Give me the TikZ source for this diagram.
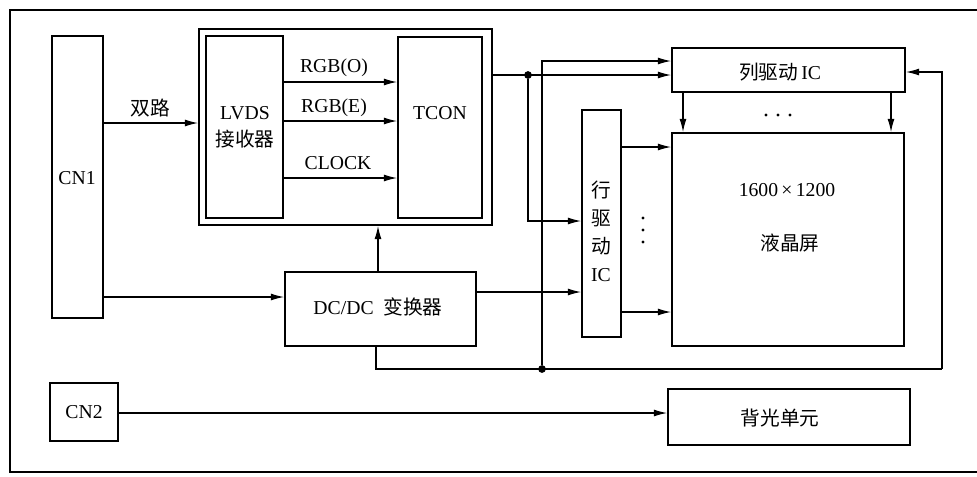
\documentclass[tikz,border=0pt]{standalone}
\usepackage{fontspec}
\setmainfont{Liberation Serif}
\newfontfamily\cjk{Noto Sans CJK SC}
\usetikzlibrary{fit,arrows.meta}
\begin{document}
\begin{tikzpicture}[x=0.025cm,y=-0.025cm,
  box/.style={draw,line width=1.2pt,inner sep=0pt},
  ln/.style={line width=0.9pt},
  arr/.style={ln,-{Latex[length=9.5pt,width=5pt]}},
  lbl/.style={font=\fontsize{14}{19}\selectfont,inner sep=0pt},
  jdot/.style={circle,fill,inner sep=0pt,minimum size=5.5pt},
  sdot/.style={circle,fill,inner sep=0pt,minimum size=2.2pt}]
\useasboundingbox (0,0) rectangle (977,476);
% outer frame
\draw[line width=1.2pt] (980,10) -- (10,10) -- (10,472) -- (980,472);
% blocks
\node[box,fit={(52,36)(103,318)}] (cn1) {};
\node[lbl] (cn1t) at (77,178) {CN1};
\node[box,fit={(199,29)(492,225)}] (outer) {};
\node[box,fit={(206,36)(283,218)}] (lvds) {};
\node[lbl,align=center] (lvdst) at (245,127) {LVDS\\{\cjk 接收器}};
\node[box,fit={(398,37)(482,218)}] (tcon) {};
\node[lbl] (tcont) at (440,113) {TCON};
\node[box,fit={(285,272)(476,346)}] (dcdc) {};
\node[lbl] (dcdct) at (378,307) {DC/DC\ \ {\cjk 变换器}};
\node[box,fit={(582,110)(621,337)}] (rowic) {};
\node[lbl,align=center,font=\fontsize{14}{20}\selectfont] (rowict) at (601,231) {{\cjk 行}\\{\cjk 驱}\\{\cjk 动}\\IC};
\node[box,fit={(672,48)(905,92)}] (colic) {};
\node[lbl] (colict) at (780,72) {{\cjk 列驱动}\,IC};
\node[box,fit={(672,133)(904,346)}] (lcd) {};
\node[lbl] (lcdt1) at (787,190) {1600\,×\,1200};
\node[lbl] (lcdt2) at (790,243) {\cjk 液晶屏};
\node[box,fit={(50,383)(118,441)}] (cn2) {};
\node[lbl] (cn2t) at (84,412) {CN2};
\node[box,fit={(668,389)(910,445)}] (bl) {};
\node[lbl] (blt) at (780,418) {\cjk 背光单元};
% labels
\node[lbl] (lsl) at (150,108) {\cjk 双路};
\node[lbl] (lrgbo) at (334,68) {RGB(O)};
\node[lbl] (lrgbe) at (334,108) {RGB(E)};
\node[lbl] (lclk) at (338,163) {CLOCK};
% connectors
\draw[arr] (cn1.east |- 0,123) -- (outer.west |- 0,123);
\draw[arr] (lvds.east |- 0,82) -- (tcon.west |- 0,82);
\draw[arr] (lvds.east |- 0,121) -- (tcon.west |- 0,121);
\draw[arr] (lvds.east |- 0,178) -- (tcon.west |- 0,178);
\draw[arr] (cn1.east |- 0,297) -- (dcdc.west |- 0,297);
\draw[arr] (dcdc.north -| 378,0) -- (outer.south -| 378,0);
\draw[arr] (dcdc.east |- 0,292) -- (rowic.west |- 0,292);
\node[jdot] (j1) at (528,75) {};
\draw[arr] (outer.east |- j1) -- (colic.west |- j1);
\draw[arr] (j1) |- (rowic.west |- 0,221);
\node[jdot] (j2) at (542,369) {};
\coordinate (bc) at (942,369);
\draw[ln] (dcdc.south -| 376,0) |- (bc);
\draw[arr] (bc) |- (colic.east |- 0,72);
\draw[arr] (j2) |- (colic.west |- 0,61);
\draw[arr] (colic.south -| 683,0) -- (lcd.north -| 683,0);
\draw[arr] (colic.south -| 891,0) -- (lcd.north -| 891,0);
\draw[arr] (rowic.east |- 0,147) -- (lcd.west |- 0,147);
\draw[arr] (rowic.east |- 0,312) -- (lcd.west |- 0,312);
\draw[arr] (cn2.east |- 0,413) -- (bl.west |- 0,413);
% ellipsis dots
\node[sdot] (h1) at (766,115) {};
\node[sdot] (h2) at (778,115) {};
\node[sdot] (h3) at (790,115) {};
\node[sdot] (v1) at (643,218) {};
\node[sdot] (v2) at (643,230) {};
\node[sdot] (v3) at (643,242) {};
\end{tikzpicture}
\end{document}
